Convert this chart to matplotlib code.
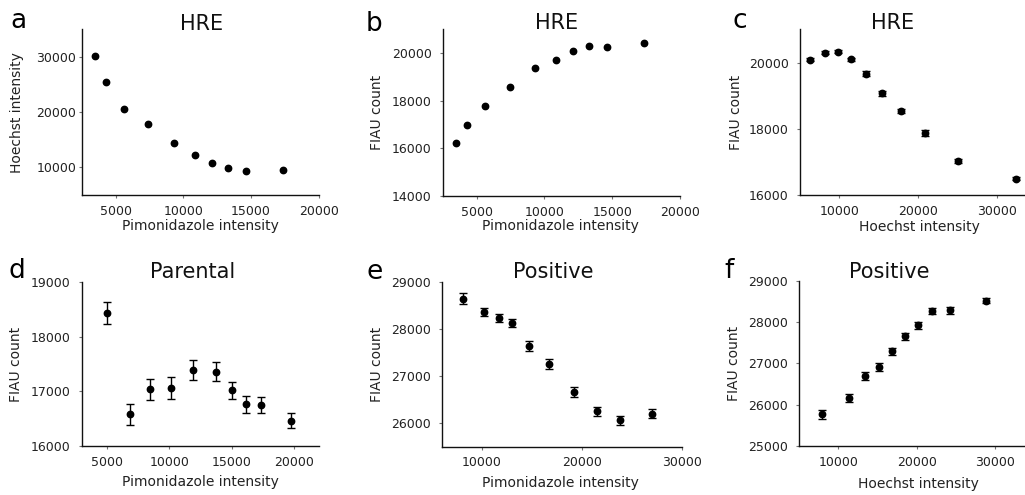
import matplotlib
matplotlib.use("Agg")
import matplotlib.pyplot as plt
import matplotlib.transforms as mtransforms

# figure size in pixels
W, H = 1025, 495

# --- data ---
# a / b : HRE cells, binned by pimonidazole intensity
hre_pimo = [3450, 4300, 5610, 7430, 9300, 10850, 12130, 13290, 14600, 17350]
hre_hoechst_a = [30120, 25540, 20660, 17770, 14460, 12230, 10840, 9940, 9400, 9580]
hre_fiau_b = [16240, 16990, 17790, 18590, 19380, 19720, 20070, 20310, 20270, 20410]

# c : HRE cells, binned by Hoechst intensity
hre_hoechst_c = [6240, 8140, 9830, 11520, 13380, 15420, 17830, 20910, 25100, 32500]
hre_fiau_c = [20090, 20300, 20330, 20100, 19660, 19070, 18540, 17870, 17040, 16490]
hre_err_c = [40, 40, 40, 40, 70, 70, 70, 80, 60, 50]

# d : parental cells
par_pimo = [5050, 6830, 8450, 10120, 11920, 13700, 15020, 16170, 17360, 19730]
par_fiau = [18430, 16580, 17040, 17060, 17390, 17360, 17020, 16770, 16750, 16470]
par_err = [205, 200, 195, 195, 185, 170, 160, 155, 150, 130]

# e : positive cells vs pimonidazole
pos_pimo = [8100, 10200, 11700, 13070, 14700, 16730, 19270, 21570, 23830, 27000]
pos_fiau_e = [28640, 28360, 28230, 28120, 27640, 27250, 26660, 26250, 26060, 26200]
pos_err_e = [110, 90, 90, 90, 100, 100, 100, 90, 90, 100]

# f : positive cells vs Hoechst
pos_hoechst = [7870, 11320, 13400, 15150, 16850, 18470, 20130, 21960, 24300, 28810]
pos_fiau_f = [25770, 26160, 26700, 26910, 27290, 27650, 27920, 28270, 28280, 28520]
pos_err_f = [110, 100, 100, 90, 90, 80, 90, 80, 80, 60]

plt.rcParams['font.family'] = ['DejaVu Sans']

fig = plt.figure(figsize=(W / 100, H / 100), dpi=100)
fig.patch.set_facecolor('white')

# pixel (from top-left) -> figure transform
px = mtransforms.Affine2D().scale(1 / W, -1 / H).translate(0, 1) + fig.transFigure


def make_axes(left, right, top, bottom):
    ax = fig.add_axes([left / W, 1 - bottom / H, (right - left) / W, (bottom - top) / H])
    for s in ['top', 'right']:
        ax.spines[s].set_visible(False)
    for s in ['left', 'bottom']:
        ax.spines[s].set_linewidth(1.0)
        ax.spines[s].set_color('#111111')
    ax.tick_params(direction='out', length=2, width=0.8, color='0.45',
                   labelsize=9, labelcolor='#222222')
    ax.tick_params(axis='x', pad=5)
    ax.tick_params(axis='y', pad=6)
    return ax


def scatter(ax, x, y, err=None):
    ax.errorbar(x, y, yerr=err, fmt='o', color='black', markersize=4.6,
                elinewidth=1.0, capsize=2.6, capthick=1.0, clip_on=False)


def ax_center_y(ax):
    bb = ax.get_position()
    return (1 - (bb.y0 + bb.y1) / 2) * H


def labels(ax, xlabel, xl_pos, ylabel, yl_right):
    # xlabel: centre x / top y in pixels, ylabel: right edge in pixels
    ax.set_xlabel(xlabel, fontsize=10, color='#222222')
    ax.xaxis.set_label_coords(xl_pos[0], xl_pos[1], transform=px)
    ax.set_ylabel(ylabel, fontsize=10, color='#222222')
    ax.yaxis.set_label_coords(yl_right, ax_center_y(ax), transform=px)


def panel_text(letter, lx, ly, title, tx, ty):
    fig.text(lx / W, 1 - ly / H, letter, fontsize=19, ha='center', va='baseline')
    fig.text(tx / W, 1 - ty / H, title, fontsize=15, ha='center', va='baseline', color='#111111')


# a
ax = make_axes(81.7, 318.7, 29.3, 195)
scatter(ax, hre_pimo, hre_hoechst_a)
ax.set_xlim(2500, 20000)
ax.set_ylim(5000, 35000)
ax.set_xticks([5000, 10000, 15000, 20000])
ax.set_yticks([10000, 20000, 30000])
ax.tick_params(axis='y', pad=2)
labels(ax, 'Pimonidazole intensity', (200, 219), 'Hoechst intensity', 24)
panel_text('a', 18, 28.3, 'HRE', 202, 30)

# b
ax = make_axes(442.7, 680, 29.3, 196)
scatter(ax, hre_pimo, hre_fiau_b)
ax.set_xlim(2500, 20000)
ax.set_ylim(14000, 21000)
ax.set_xticks([5000, 10000, 15000, 20000])
ax.set_yticks([14000, 16000, 18000, 20000])
labels(ax, 'Pimonidazole intensity', (560, 219), 'FIAU count', 384)
panel_text('b', 374, 30.7, 'HRE', 557, 29.3)

# c
ax = make_axes(800, 1036, 29.4, 195)
scatter(ax, hre_hoechst_c, hre_fiau_c, hre_err_c)
ax.set_xlim(5000, 35000)
ax.set_ylim(16000, 21000)
ax.set_xticks([10000, 20000, 30000])
ax.set_yticks([16000, 18000, 20000])
labels(ax, 'Hoechst intensity', (919, 220), 'FIAU count', 743)
panel_text('c', 740, 28.3, 'HRE', 893, 29.3)

# d
ax = make_axes(81.7, 319.3, 281.7, 446.3)
scatter(ax, par_pimo, par_fiau, par_err)
ax.set_xlim(3000, 22000)
ax.set_ylim(16000, 19000)
ax.set_xticks([5000, 10000, 15000, 20000])
ax.set_yticks([16000, 17000, 18000, 19000])
labels(ax, 'Pimonidazole intensity', (200, 475), 'FIAU count', 23)
panel_text('d', 17, 278, 'Parental', 193, 278)

# e
ax = make_axes(441.7, 681.7, 281.7, 446.7)
scatter(ax, pos_pimo, pos_fiau_e, pos_err_e)
ax.set_xlim(6000, 30000)
ax.set_ylim(25500, 29000)
ax.set_xticks([10000, 20000, 30000])
ax.set_yticks([26000, 27000, 28000, 29000])
labels(ax, 'Pimonidazole intensity', (560, 476), 'FIAU count', 384)
panel_text('e', 375, 279, 'Positive', 553, 278)

# f
ax = make_axes(799.3, 1034, 280.7, 446)
scatter(ax, pos_hoechst, pos_fiau_f, pos_err_f)
ax.set_xlim(5000, 35000)
ax.set_ylim(25000, 29000)
ax.set_xticks([10000, 20000, 30000])
ax.set_yticks([25000, 26000, 27000, 28000, 29000])
labels(ax, 'Hoechst intensity', (918, 477), 'FIAU count', 741)
panel_text('f', 729, 278, 'Positive', 889, 278)

fig.savefig('out.png', dpi=100, facecolor='white')
